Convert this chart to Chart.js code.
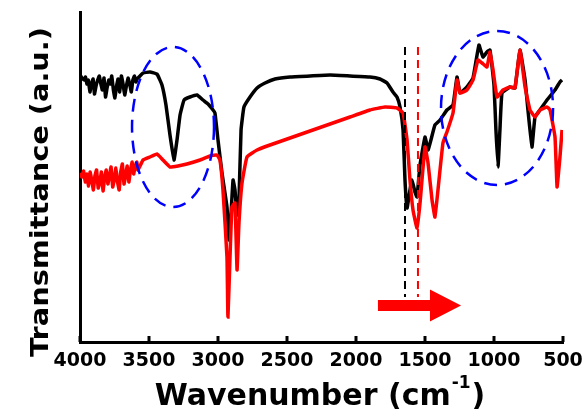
<!DOCTYPE html>
<html><head><meta charset="utf-8">
<script src="https://cdn.jsdelivr.net/npm/chart.js@4.4.1/dist/chart.umd.min.js"></script>
<style>html,body{margin:0;padding:0;background:#fff}#wrap{width:585px;height:412px}</style>
</head><body><div id="wrap"><canvas id="c" width="585" height="412"></canvas></div>
<script>
// Black spectrum: wavenumber (cm-1) and transmittance (a.u.)
const blackWn = [4000,3985,3972,3960,3950,3940,3928,3918,3905,3895,3884,3872,3860,3850,3838,3826,3815,3804,3792,3780,3770,3758,3747,3735,3724,3712,3700,3688,3676,3665,3652,3640,3628,3617,3605,3595,3587,3543,3493,3442,3406,3377,3348,3319,3297,3275,3246,3203,3152,3109,3072,3036,3022,3000,2971,2935,2920,2906,2891,2877,2862,2848,2833,2812,2768,2717,2659,2587,2478,2333,2188,2043,1899,1826,1775,1732,1703,1681,1659,1645,1630,1609,1594,1573,1558,1536,1500,1478,1457,1428,1391,1341,1297,1268,1246,1196,1152,1109,1080,1051,1029,1000,986,971,957,942,884,848,812,775,754,725,703,667,616,558,522,507];
const blackT  = [267,264,262,265,258,262,250,258,263,248,256,262,266,259,252,264,245,254,262,258,266,252,244,256,263,250,266,258,247,255,264,258,250,262,266,260,263,269,270,268,257,237,207,182,202,227,242,245,247,242,238,232,229,202,169,135,102,127,162,152,127,142,212,235,245,254,259,263,265,266,267,266,265,263,259,250,245,235,212,162,134,152,162,150,145,177,205,192,202,217,222,232,237,265,249,255,264,297,285,290,292,257,212,175,212,249,255,254,292,262,232,195,225,232,242,252,260,262];
// Red spectrum
const redWn = [4000,3986,3974,3962,3950,3938,3927,3915,3903,3892,3880,3868,3856,3845,3833,3822,3810,3798,3787,3775,3763,3752,3740,3728,3716,3705,3693,3681,3670,3658,3646,3634,3622,3611,3600,3588,3580,3543,3493,3442,3399,3348,3290,3225,3130,3058,3007,2986,2964,2935,2928,2913,2899,2877,2862,2848,2826,2790,2717,2623,2478,2333,2188,2043,1899,1790,1703,1659,1630,1609,1587,1558,1536,1500,1478,1449,1428,1406,1370,1341,1297,1268,1246,1196,1152,1116,1087,1051,1029,1007,978,935,884,848,812,775,739,703,667,616,594,558,543,522,507];
const redT  = [169,165,171,160,168,156,170,162,152,166,172,154,160,170,151,164,172,158,166,175,155,162,174,160,152,170,178,158,166,176,160,172,180,168,176,180,172,182,185,188,182,175,176,178,182,186,187,182,152,85,25,85,135,139,72,119,159,185,192,197,204,211,218,225,232,235,234,229,202,162,132,114,139,195,179,142,125,152,199,210,229,262,249,252,262,282,279,275,290,272,245,252,255,254,292,255,232,225,232,235,232,205,155,185,212];
const xTicks = [4000,3500,3000,2500,2000,1500,1000,500];
const xTitle = ['Wavenumber (cm', '-1', ')'];
const yTitle = 'Transmittance (a.u.)';
// annotations in data units
const ellipses = [{wn:3326,t:215,rwn:297,rt:80},{wn:978,t:234,rwn:406,rt:77}];
const markers = [{wn:1645,color:'#000000'},{wn:1551,color:'#ff0000'}];
const markerRange = [45,295];
const arrow = {from:1841,to:1239,headStart:1464,t:36.5,shaftHalf:5.5,headHalf:16};

const toPts = (w,t)=>w.map((x,i)=>({x:x,y:t[i]}));
const FONT = '"DejaVu Sans", "Liberation Sans", sans-serif';

const annot = {
  id:'annot',
  afterDatasetsDraw(chart){
    const {ctx,scales:{x,y}} = chart;
    ctx.save();
    ctx.strokeStyle='#0000ff'; ctx.lineWidth=2.5; ctx.setLineDash([13,8]);
    ellipses.forEach(e=>{
      const cx=x.getPixelForValue(e.wn), cy=y.getPixelForValue(e.t);
      const rx=Math.abs(x.getPixelForValue(e.wn+e.rwn)-cx), ry=Math.abs(y.getPixelForValue(e.t+e.rt)-cy);
      ctx.beginPath(); ctx.ellipse(cx,cy,rx,ry,0,0,Math.PI*2); ctx.stroke();
    });
    ctx.lineWidth=2; ctx.setLineDash([8,5]);
    markers.forEach(m=>{
      const px=x.getPixelForValue(m.wn);
      ctx.strokeStyle=m.color; ctx.beginPath();
      ctx.moveTo(px,y.getPixelForValue(markerRange[1])); ctx.lineTo(px,y.getPixelForValue(markerRange[0])); ctx.stroke();
    });
    ctx.setLineDash([]);
    const x0=x.getPixelForValue(arrow.from), xh=x.getPixelForValue(arrow.headStart), x1=x.getPixelForValue(arrow.to);
    const cy=y.getPixelForValue(arrow.t);
    const sh=Math.abs(y.getPixelForValue(arrow.t+arrow.shaftHalf)-cy), hh=Math.abs(y.getPixelForValue(arrow.t+arrow.headHalf)-cy);
    ctx.fillStyle='#ff0000'; ctx.beginPath();
    ctx.moveTo(x0,cy-sh); ctx.lineTo(xh,cy-sh); ctx.lineTo(xh,cy-hh); ctx.lineTo(x1,cy); ctx.lineTo(xh,cy+hh); ctx.lineTo(xh,cy+sh); ctx.lineTo(x0,cy+sh); ctx.closePath(); ctx.fill();
    ctx.strokeStyle='#000'; ctx.lineWidth=3;
    const by=chart.chartArea.bottom;
    xTicks.forEach(v=>{const px=x.getPixelForValue(v); ctx.beginPath(); ctx.moveTo(px,by); ctx.lineTo(px,by-6); ctx.stroke();});
    ctx.fillStyle='#000';
    ctx.save();
    ctx.translate(42,192); ctx.rotate(-Math.PI/2); ctx.scale(1.2,1);
    ctx.font='bold 24px '+FONT; ctx.textAlign='center'; ctx.textBaseline='middle';
    ctx.fillText(yTitle,0,0);
    ctx.restore();
    ctx.save();
    const big='bold 30px '+FONT, small='bold 17px '+FONT;
    ctx.font=big; const w1=ctx.measureText(xTitle[0]).width, w3=ctx.measureText(xTitle[2]).width;
    ctx.font=small; const w2=ctx.measureText(xTitle[1]).width;
    const total=w1+w2+w3+2, cx=320;
    ctx.translate(cx,405);
    let px=-total/2; ctx.textBaseline='alphabetic'; ctx.textAlign='left';
    ctx.font=big; ctx.fillText(xTitle[0],px,0); px+=w1;
    ctx.font=small; ctx.fillText(xTitle[1],px+1,-17); px+=w2+2;
    ctx.font=big; ctx.fillText(xTitle[2],px,0);
    ctx.restore();
    ctx.restore();
  }
};

new Chart(document.getElementById('c'),{
  type:'line',
  data:{datasets:[
    {label:'black',data:toPts(blackWn,blackT),borderColor:'#000000',borderWidth:3.5,pointRadius:0,tension:0.1,fill:false,order:1},
    {label:'red',data:toPts(redWn,redT),borderColor:'#ff0000',borderWidth:3.5,pointRadius:0,tension:0.1,fill:false,order:0}
  ]},
  options:{
    responsive:false,animation:false,
    layout:{padding:{top:12,right:22,left:0,bottom:0}},
    plugins:{legend:{display:false},tooltip:{enabled:false}},
    scales:{
      x:{type:'linear',reverse:true,min:500,max:4000,
        afterBuildTicks(s){s.ticks=xTicks.map(v=>({value:v}));},
        afterFit(s){s.height=70; s.paddingLeft=0; s.paddingRight=0;},
        grid:{display:false,drawTicks:false},
        border:{display:true,color:'#000',width:3},
        ticks:{color:'#000',padding:8,maxRotation:0,autoSkip:false,callback:v=>String(v),font:{family:'DejaVu Sans',weight:'bold',size:19}},
        title:{display:false}
      },
      y:{type:'linear',min:0,max:330,
        afterFit(s){s.width=80;},
        grid:{display:false,drawTicks:false},
        border:{display:true,color:'#000',width:3},
        ticks:{display:false},
        title:{display:false}
      }
    }
  },
  plugins:[annot]
});
</script></body></html>
